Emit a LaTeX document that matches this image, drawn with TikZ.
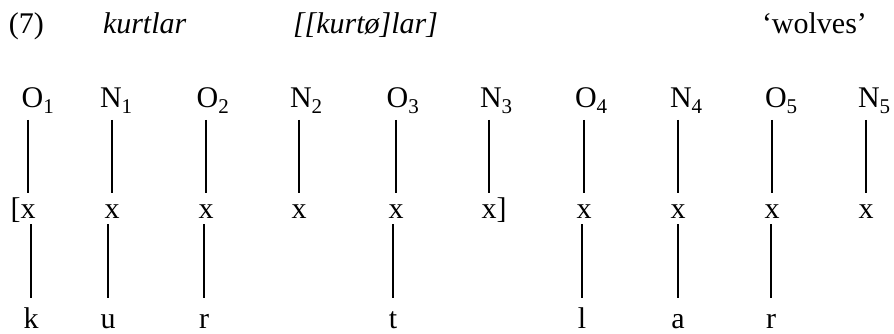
\documentclass[tikz,border=0pt]{standalone}
\usepackage{fontspec}
\setmainfont{Liberation Serif}
\begin{document}
\begin{tikzpicture}[x=1pt,y=-1pt,
  every node/.style={inner sep=0pt,outer sep=0pt,font=\fontsize{30}{36}\selectfont},
  ttl/.style={anchor=base west},
  toplab/.style={anchor=base west,text depth=12pt},
  xnode/.style={anchor=base,text height=25pt,text depth=6pt},
  seg/.style={anchor=base,text height=30pt},
  conn/.style={line width=2pt}]
\useasboundingbox (0,0) rectangle (894,334);
% title line
\node[ttl] (num) at (9,34) {(7)};
\node[ttl] (word) at (103,34) {\itshape kurtlar};
\node[ttl] (struct) at (293,34) {\itshape [[kurtø]lar]};
\node[ttl] (gloss) at (762,34) {‘wolves’};
% O/N labels
\node[toplab] (O1) at (21.7,108) {O\textsubscript{1}};
\node[toplab] (N1) at (100,108) {N\textsubscript{1}};
\node[toplab] (O2) at (196.7,108) {O\textsubscript{2}};
\node[toplab] (N2) at (290,108) {N\textsubscript{2}};
\node[toplab] (O3) at (386.7,108) {O\textsubscript{3}};
\node[toplab] (N3) at (480,108) {N\textsubscript{3}};
\node[toplab] (O4) at (575,108) {O\textsubscript{4}};
\node[toplab] (N4) at (670,108) {N\textsubscript{4}};
\node[toplab] (O5) at (765,108) {O\textsubscript{5}};
\node[toplab] (N5) at (858,108) {N\textsubscript{5}};
% skeletal slots
\node[xnode] (x1) at (28,218) {\llap{[}x};
\node[xnode] (x2) at (112,218) {x};
\node[xnode] (x3) at (206,218) {x};
\node[xnode] (x4) at (299,218) {x};
\node[xnode] (x5) at (396,218) {x};
\node[xnode] (x6) at (489,218) {x\rlap{]}};
\node[xnode] (x7) at (584,218) {x};
\node[xnode] (x8) at (678,218) {x};
\node[xnode] (x9) at (772,218) {x};
\node[xnode] (x10) at (866,218) {x};
% segments
\node[seg] (k) at (31,328) {k};
\node[seg] (u) at (108,328) {u};
\node[seg] (r1) at (204,328) {r};
\node[seg] (t) at (393,328) {t};
\node[seg] (l) at (582,328) {l};
\node[seg] (a) at (678,328) {a};
\node[seg] (r2) at (771,328) {r};
% association lines (top)
\draw[conn] (O1.south -| x1) -- (x1.north);
\draw[conn] (N1.south -| x2) -- (x2.north);
\draw[conn] (O2.south -| x3) -- (x3.north);
\draw[conn] (N2.south -| x4) -- (x4.north);
\draw[conn] (O3.south -| x5) -- (x5.north);
\draw[conn] (N3.south -| x6) -- (x6.north);
\draw[conn] (O4.south -| x7) -- (x7.north);
\draw[conn] (N4.south -| x8) -- (x8.north);
\draw[conn] (O5.south -| x9) -- (x9.north);
\draw[conn] (N5.south -| x10) -- (x10.north);
% association lines (bottom)
\draw[conn] (x1.south -| k) -- (k.north);
\draw[conn] (x2.south -| u) -- (u.north);
\draw[conn] (x3.south -| r1) -- (r1.north);
\draw[conn] (x5.south -| t) -- (t.north);
\draw[conn] (x7.south -| l) -- (l.north);
\draw[conn] (x8.south -| a) -- (a.north);
\draw[conn] (x9.south -| r2) -- (r2.north);
\end{tikzpicture}
\end{document}
